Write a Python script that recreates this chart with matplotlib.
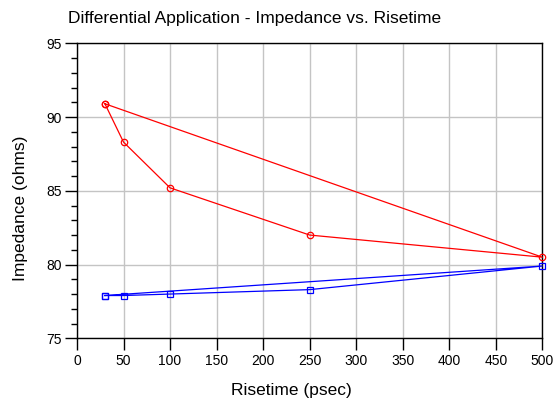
import numpy as np
import matplotlib
matplotlib.use("Agg")
import matplotlib.pyplot as plt
from matplotlib.ticker import MultipleLocator

plt.rcParams['font.family'] = ['Liberation Sans', 'DejaVu Sans']

# risetime (psec), loop closes back to first point
risetime = [30, 50, 100, 250, 500, 30]
imp_red = [90.9, 88.3, 85.2, 82.0, 80.5, 90.9]
imp_blue = [77.9, 77.9, 78.0, 78.3, 79.9, 77.9]

W, H = 555, 401
fig = plt.figure(figsize=(W / 100, H / 100), dpi=100)
ax = fig.add_axes([77 / W, 1 - 338.3 / H, (542.3 - 77) / W, (338.3 - 43.3) / H])

ax.plot(risetime, imp_red, color='#ff0000', lw=0.9, marker='o', ms=4.6,
        mfc='none', mec='#ff0000', mew=0.9, zorder=3, clip_on=False)
ax.plot(risetime, imp_blue, color='#0000ff', lw=0.9, marker='s', ms=4.4,
        mfc='none', mec='#0000ff', mew=0.9, zorder=3, clip_on=False)

ax.set_xlim(0, 500)
ax.set_ylim(75, 95)
ax.xaxis.set_major_locator(MultipleLocator(50))
ax.yaxis.set_major_locator(MultipleLocator(5))
ax.yaxis.set_minor_locator(MultipleLocator(1))
ax.grid(True, which='major', color='#c4c4c4', lw=1)
ax.set_axisbelow(True)

ax.tick_params(axis='x', which='major', direction='out', length=8.5, width=1,
               labelsize=10, pad=3)
ax.tick_params(axis='y', which='major', direction='out', length=8.5, width=1,
               labelsize=10, pad=2.4)
ax.tick_params(axis='y', which='minor', direction='out', length=4, width=1)
for s in ax.spines.values():
    s.set_linewidth(1)

fig.text(291 / W, 1 - 395 / H, 'Risetime (psec)', fontsize=12.5,
         ha='center', va='baseline')
fig.text(25.5 / W, 1 - 208 / H, 'Impedance (ohms)', fontsize=12.5,
         rotation=90, rotation_mode='anchor', ha='center', va='baseline')
fig.text(68 / W, 1 - 23.3 / H, 'Differential Application - Impedance vs. Risetime',
         fontsize=12.5, ha='left', va='baseline')

fig.savefig('out.png', dpi=100)
